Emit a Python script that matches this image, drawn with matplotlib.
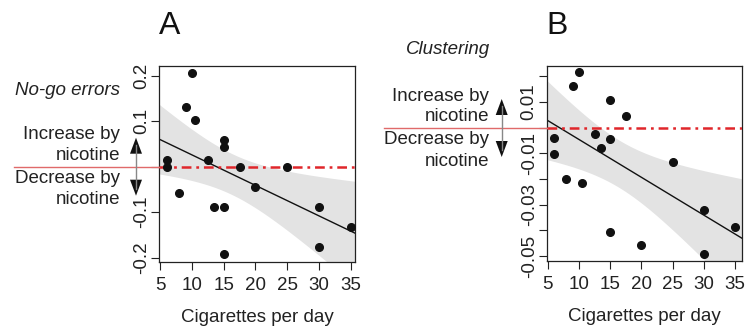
import numpy as np
import matplotlib
matplotlib.use("Agg")
import matplotlib.pyplot as plt
from matplotlib.lines import Line2D
from matplotlib.patches import Polygon

plt.rcParams['font.family'] = ['Liberation Sans', 'DejaVu Sans']
plt.rcParams['lines.scale_dashes'] = False

W, H = 751, 326

# valores
cig_a = [6, 6, 8, 9, 10, 10.5, 12.5, 13.5, 15, 15, 15, 15, 17.5, 20, 25, 30, 30, 35]
nogo_a = [0.015, 0.0, -0.058, 0.132, 0.207, 0.103, 0.015, -0.088,
          0.059, 0.044, -0.088, -0.192, 0.0, -0.044, 0.0, -0.088, -0.177, -0.132]

cig_b = [6, 6, 8, 9, 10, 10.5, 12.5, 13.5, 15, 15, 15, 17.5, 20, 25, 30, 30, 35]
clust_b = [-0.0038, -0.0103, -0.0201, 0.0164, 0.0216, -0.0214, -0.0025, -0.0080,
           0.0108, -0.0043, -0.0408, 0.0046, -0.0455, -0.0134, -0.0319, -0.0492, -0.0387]

xticks = [5, 10, 15, 20, 25, 30, 35]
yticks_a = [-0.2, -0.1, 0.0, 0.1, 0.2]
ylabels_a = ['-0.2', '-0.1', '', '0.1', '0.2']
yticks_b = [-0.05, -0.04, -0.03, -0.02, -0.01, 0.0, 0.01, 0.02]
ylabels_b = ['-0.05', '', '-0.03', '', '-0.01', '', '0.01', '']

# t(0.975) para df = n - 2
T975 = {15: 2.131, 16: 2.120}

FS = 13.5


def px(x, y):
    # pixel da figura -> fração
    return x / W, 1 - y / H


def fit_band(x, y, xs):
    x = np.asarray(x, float)
    y = np.asarray(y, float)
    n = len(x)
    b, a = np.polyfit(x, y, 1)
    resid = y - (a + b * x)
    s = np.sqrt(np.sum(resid ** 2) / (n - 2))
    sxx = np.sum((x - x.mean()) ** 2)
    se = s * np.sqrt(1.0 / n + (xs - x.mean()) ** 2 / sxx)
    fit = a + b * xs
    t = T975[n - 2]
    return fit, fit - t * se, fit + t * se


def painel(fig, rect, x, y, xlim, ylim, yticks, ylabels):
    ax = fig.add_axes(rect)
    xs = np.linspace(xlim[0], xlim[1], 200)
    fit, lo, hi = fit_band(x, y, xs)
    ax.fill_between(xs, lo, hi, color='#e3e3e3', lw=0, zorder=1)
    ax.plot(xs, fit, color='#111111', lw=1.0, zorder=2)
    ax.axhline(0, color='#e0262b', lw=1.8, dashes=(7, 3.5, 2, 3.5), zorder=3)
    ax.plot(x, y, 'o', color='#111111', markersize=5.5, zorder=4)
    ax.set_xlim(*xlim)
    ax.set_ylim(*ylim)
    ax.set_xticks(xticks)
    ax.set_xticklabels([str(v) for v in xticks])
    ax.set_yticks(yticks)
    ax.set_yticklabels(ylabels, rotation=90, va='center')
    ax.tick_params(axis='both', direction='out', length=6, width=0.8,
                   labelsize=FS, colors='#222222')
    ax.tick_params(axis='x', pad=5)
    ax.tick_params(axis='y', pad=0.5)
    for sp in ax.spines.values():
        sp.set_linewidth(0.9)
        sp.set_color('#222222')
    ax.set_xlabel('Cigarettes per day', fontsize=FS, color='#222222', labelpad=11)
    return ax


def seta(fig, xc, y0):
    # haste cinza + duas pontas pretas
    fig.add_artist(Line2D([px(xc, 0)[0]] * 2, [px(0, y0 - 22)[1], px(0, y0 + 22)[1]],
                          color='#888888', lw=1.0))
    for s in (-1, 1):
        tip = px(xc, y0 + s * 29)
        l = px(xc - 6, y0 + s * 13)
        r = px(xc + 6, y0 + s * 13)
        fig.add_artist(Polygon([tip, l, r], closed=True, color='#111111', lw=0))


def textos(fig, xr, y0, xlin_ini, xlin_fim):
    fig.add_artist(Line2D([px(xlin_ini, 0)[0], px(xlin_fim, 0)[0]],
                          [px(0, y0)[1]] * 2, color='#e06a6a', lw=1.0))
    for dy, t in [(-32, 'Increase by'), (-11, 'nicotine'), (12, 'Decrease by'), (33, 'nicotine')]:
        fig.text(*px(xr, y0 + dy), t, ha='right', va='center', fontsize=FS, color='#222222')


fig = plt.figure(figsize=(W / 100, H / 100), dpi=100)

ax_a = painel(fig, [159.3 / W, 1 - 261.7 / H, 195.7 / W, 196 / H],
              cig_a, nogo_a, (4.84, 35.7), (-0.209, 0.222), yticks_a, ylabels_a)
ax_b = painel(fig, [546.7 / W, 1 - 260.7 / H, 195.6 / W, 195 / H],
              cig_b, clust_b, (4.84, 36.16), (-0.0518, 0.0242), yticks_b, ylabels_b)

fig.text(*px(170, 26), 'A', ha='center', va='center', fontsize=23, color='#111111')
fig.text(*px(557, 26), 'B', ha='center', va='center', fontsize=23, color='#111111')

fig.text(*px(120, 91), 'No-go errors', ha='right', va='center', fontsize=FS,
         style='italic', color='#222222')
fig.text(*px(490, 49), 'Clustering', ha='right', va='center', fontsize=FS,
         style='italic', color='#222222')

textos(fig, 120, 166.7, 14, 159.3)
textos(fig, 489, 128, 384, 546.7)
seta(fig, 136, 166.7)
seta(fig, 501.7, 128)

fig.savefig('out.png', dpi=100)
